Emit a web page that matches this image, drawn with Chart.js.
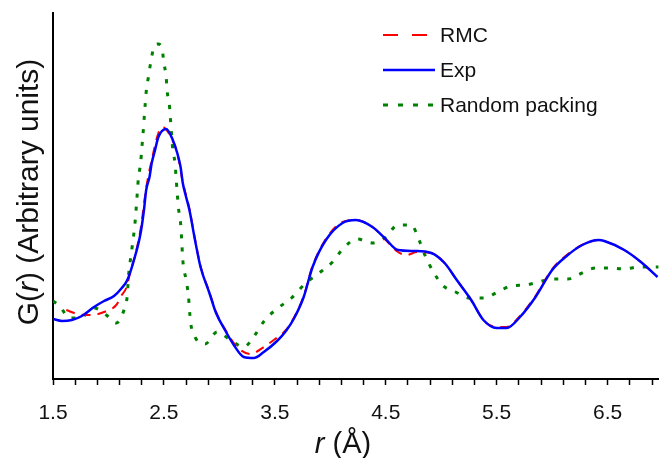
<!DOCTYPE html>
<html>
<head>
<meta charset="utf-8">
<script src="https://cdn.jsdelivr.net/npm/chart.js@4.4.1/dist/chart.umd.min.js"></script>
<style>
  html, body { margin: 0; padding: 0; background: #ffffff; }
  #wrap { width: 668px; height: 458px; position: relative; }
</style>
</head>
<body>
<div id="wrap"><canvas id="c" width="668" height="458"></canvas></div>
<script>
// ---- data (r in Å, G(r) in arbitrary units) ----
const expR = [1.50,1.58,1.67,1.76,1.87,1.96,2.05,2.12,2.17,2.23,2.29,2.32,2.34,2.37,2.39,2.42,2.45,2.52,2.58,2.62,2.65,2.67,2.70,2.73,2.78,2.83,2.91,2.97,3.05,3.13,3.22,3.31,3.40,3.52,3.60,3.67,3.76,3.84,3.96,4.11,4.23,4.38,4.49,4.61,4.76,4.91,5.03,5.14,5.27,5.38,5.50,5.59,5.71,5.85,6.00,6.12,6.27,6.42,6.47,6.65,6.80,6.95];
const expG = [60,58,59,63,72,78,83,91,99,119,146,169,189,202,216,229,242,250,239,226,212,196,182,169,139,112,86,66,49,34,22,21,27,38,48,60,82,112,139,156,159,152,141,129,128,126,116,99,79,59,51,51,62,82,109,122,134,139,138,129,117,102];

const rmcR = [1.62,1.72,1.85,1.96,2.07,2.12,2.16,2.20,2.25,2.29,2.34,2.40,2.45,2.49,2.53,2.58,2.62,2.67,2.73,2.78,2.83,2.91,2.97,3.05,3.13,3.19,3.28,3.40,3.49,3.60,3.67,3.76,3.84,3.96,4.11,4.23,4.38,4.49,4.61,4.69,4.78,4.91,5.03,5.14,5.27,5.38,5.50,5.59,5.71,5.85,6.00,6.12,6.27,6.42,6.47,6.65,6.80,6.95];
const rmcG = [69,65,64,67,74,84,91,108,128,150,191,224,246,252,248,238,226,197,170,140,113,87,67,50,36,29,25,32,39,49,61,83,113,140,157,159,152,140,127,124,127,126,116,99,79,59,52,52,63,83,110,123,134,139,138,129,117,102];

const rpR = [1.50,1.56,1.65,1.76,1.87,1.98,2.07,2.14,2.17,2.18,2.21,2.24,2.26,2.27,2.29,2.30,2.31,2.32,2.33,2.34,2.36,2.38,2.41,2.445,2.48,2.50,2.52,2.53,2.55,2.56,2.57,2.58,2.60,2.61,2.62,2.63,2.65,2.66,2.67,2.70,2.72,2.74,2.78,2.87,2.98,3.10,3.22,3.32,3.41,3.53,3.65,3.78,3.90,4.02,4.12,4.24,4.38,4.49,4.61,4.73,4.80,4.86,4.92,5.01,5.13,5.26,5.38,5.51,5.63,5.76,5.88,6.00,6.14,6.25,6.39,6.52,6.65,6.78,6.92,6.96];
const rpG = [78,73,61,62,71,64,56,69,84,102,129,157,186,201,216,230,243,258,273,287,302,316,332,335,332,316,302,287,273,258,243,229,216,201,186,172,156,139,119,99,84,57,42,35,47,39,32,44,59,71,81,96,106,117,131,140,136,141,154,154,139,122,109,94,87,81,81,87,93,94,97,100,100,105,111,111,110,112,112,112];

const seriesNames = ['RMC', 'Exp', 'Random packing'];
const xTickLabels = ['1.5','2.5','3.5','4.5','5.5','6.5'];
const xMin = 1.5, xMax = 6.96, xMinorStep = 0.2;
const yTitleParts = [['G(', false], ['r', true], [') (Arbitrary units)', false]];
const xTitleParts = [['r', true], [' (Å)', false]];

const FONT = '"Liberation Sans", Arial, sans-serif';
const COLORS = { rmc: '#ff0000', exp: '#0000ff', rp: '#008000' };

function pts(xs, ys) { return xs.map((x, i) => ({ x: x, y: ys[i] })); }

const dsExp = { label: seriesNames[1], data: pts(expR, expG), borderColor: COLORS.exp, borderWidth: 2.5, borderDash: [] };
const dsRmc = { label: seriesNames[0], data: pts(rmcR, rmcG), borderColor: COLORS.rmc, borderWidth: 2, borderDash: [9, 7] };
const dsRp  = { label: seriesNames[2], data: pts(rpR, rpG),  borderColor: COLORS.rp,  borderWidth: 3, borderDash: [4, 9] };
[dsExp, dsRmc, dsRp].forEach(d => { d.pointRadius = 0; d.fill = false; d.cubicInterpolationMode = 'monotone'; });

function drawParts(ctx, parts, size) {
  let total = 0;
  const widths = parts.map(([t, it]) => {
    ctx.font = (it ? 'italic ' : '') + size + 'px ' + FONT;
    const w = ctx.measureText(t).width; total += w; return w;
  });
  let x = -total / 2;
  parts.forEach(([t, it], i) => {
    ctx.font = (it ? 'italic ' : '') + size + 'px ' + FONT;
    ctx.fillText(t, x, 0);
    x += widths[i];
  });
}

const decor = {
  id: 'decor',
  afterDraw(chart) {
    const ctx = chart.ctx;
    ctx.save();
    ctx.fillStyle = '#111';
    ctx.textBaseline = 'alphabetic';
    ctx.textAlign = 'left';
    // y title
    ctx.save();
    ctx.translate(38, 192);
    ctx.rotate(-Math.PI / 2);
    drawParts(ctx, yTitleParts, 30);
    ctx.restore();
    // x title
    ctx.save();
    ctx.translate(343, 453);
    drawParts(ctx, xTitleParts, 29);
    ctx.restore();
    // legend
    const items = [
      { ds: dsRmc, y: 35, x2: 428, dash: [15, 14] },
      { ds: dsExp, y: 70, x2: 435, dash: [] },
      { ds: dsRp,  y: 105, x2: 433, dash: [5, 10] }
    ];
    items.forEach(it => {
      ctx.beginPath();
      ctx.setLineDash(it.dash);
      ctx.lineWidth = it.ds.borderWidth;
      ctx.strokeStyle = it.ds.borderColor;
      ctx.moveTo(383, it.y);
      ctx.lineTo(it.x2, it.y);
      ctx.stroke();
      ctx.setLineDash([]);
      ctx.font = '21px ' + FONT;
      ctx.fillStyle = '#111';
      ctx.textBaseline = 'middle';
      ctx.fillText(it.ds.label, 440, it.y + 1);
    });
    ctx.restore();
  }
};

new Chart(document.getElementById('c'), {
  type: 'line',
  data: { datasets: [dsExp, dsRmc, dsRp] },
  options: {
    responsive: false,
    animation: false,
    layout: { padding: { top: 13, right: 0, left: 0, bottom: 0 } },
    plugins: { legend: { display: false }, tooltip: { enabled: false } },
    scales: {
      x: {
        type: 'linear',
        min: xMin, max: xMax,
        afterBuildTicks(scale) {
          const t = [];
          for (let i = 0; xMin + i * xMinorStep <= xMax + 1e-9; i++) {
            t.push({ value: Math.round((xMin + i * xMinorStep) * 10) / 10 });
          }
          scale.ticks = t;
        },
        afterFit(scale) { scale.height = 79; },
        grid: { drawOnChartArea: false, drawTicks: true, tickLength: 6, tickWidth: 1.5, tickColor: '#000' },
        border: { display: true, color: '#000', width: 2 },
        ticks: {
          autoSkip: false, maxRotation: 0, padding: 16, color: '#111',
          font: { family: FONT, size: 21 },
          callback(v) { const s = Number(v).toFixed(1); return xTickLabels.includes(s) ? s : ''; }
        }
      },
      y: {
        min: 0, max: 366,
        afterFit(scale) { scale.width = 53; },
        grid: { display: false, drawTicks: false },
        border: { display: true, color: '#000', width: 2 },
        ticks: { display: false }
      }
    }
  },
  plugins: [decor]
});
</script>
</body>
</html>
